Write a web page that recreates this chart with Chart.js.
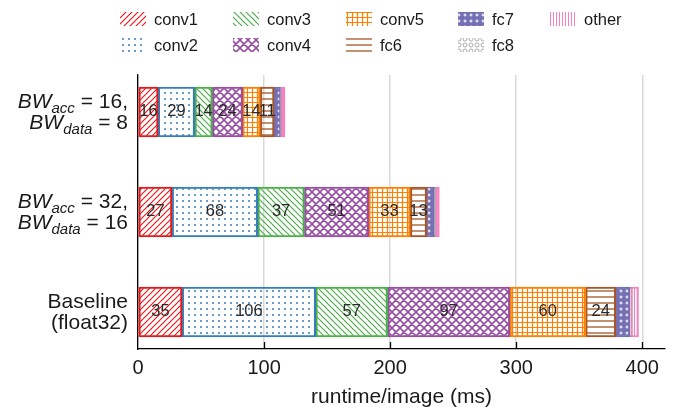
<!DOCTYPE html>
<html>
<head>
<meta charset="utf-8">
<script src="https://cdn.jsdelivr.net/npm/chart.js@4"></script>
<style>
  body { margin: 0; background: #fff; }
  canvas { display: block; }
</style>
</head>
<body>
<canvas id="runtimeChart" width="681" height="407"></canvas>
<script>
// カテゴリ（上から順に）。"_" の後ろは下付き文字
const categories = [
  ['BW_acc = 16,', 'BW_data = 8'],
  ['BW_acc = 32,', 'BW_data = 16'],
  ['Baseline', '(float32)']
];
const layerNames = ['conv1', 'conv2', 'conv3', 'conv4', 'conv5', 'fc6', 'fc7', 'fc8', 'other'];

// runtime per layer (ms)
const conv1 = [16, 27, 35];
const conv2 = [29, 68, 106];
const conv3 = [14, 37, 57];
const conv4 = [24, 51, 97];
const conv5 = [14, 33, 60];
const fc6 = [11, 13, 24];
const fc7 = [5, 6, 11];
const fc8 = [0.6, 1, 1];
const other = [3, 3, 6];

const xTicks = [0, 100, 200, 300, 400];
const labelledLayers = ['conv1', 'conv2', 'conv3', 'conv4', 'conv5', 'fc6'];

const FONT = "'Liberation Sans', Arial, sans-serif";
Chart.defaults.font.family = FONT;

const layerStyles = {
  conv1: { color: '#e41a1c', kind: 'slash' },
  conv2: { color: '#377eb8', kind: 'dots' },
  conv3: { color: '#4daf4a', kind: 'backslash' },
  conv4: { color: '#984ea3', kind: 'cross' },
  conv5: { color: '#ff7f00', kind: 'grid' },
  fc6:   { color: '#a65628', kind: 'hline' },
  fc7:   { color: '#7570b3', kind: 'stars' },
  fc8:   { color: '#999999', kind: 'rings' },
  other: { color: '#f781bf', kind: 'vline' }
};

// ハッチング用パターン
function makePattern(kind, color) {
  const s = { slash: 6, backslash: 6, dots: 6, cross: 8, grid: 5, hline: 6, stars: 6, rings: 6, vline: 3 }[kind];
  const c = document.createElement('canvas');
  c.width = s; c.height = s;
  const g = c.getContext('2d');
  g.strokeStyle = color;
  g.fillStyle = color;
  g.lineWidth = kind === 'cross' ? 1.6 : 1.2;
  g.beginPath();
  if (kind === 'slash' || kind === 'cross') {
    g.moveTo(-1, s + 1); g.lineTo(s + 1, -1);
    g.moveTo(-1, 1); g.lineTo(1, -1);
    g.moveTo(s - 1, s + 1); g.lineTo(s + 1, s - 1);
  }
  if (kind === 'backslash' || kind === 'cross') {
    g.moveTo(-1, -1); g.lineTo(s + 1, s + 1);
    g.moveTo(s - 1, -1); g.lineTo(s + 1, 1);
    g.moveTo(-1, s - 1); g.lineTo(1, s + 1);
  }
  if (kind === 'grid') {
    g.moveTo(2.5, 0); g.lineTo(2.5, s);
    g.moveTo(0, 2.5); g.lineTo(s, 2.5);
  }
  if (kind === 'hline') {
    g.lineWidth = 1.3;
    g.moveTo(0, 3); g.lineTo(s, 3);
  }
  if (kind === 'vline') {
    g.lineWidth = 1;
    g.moveTo(1.5, 0); g.lineTo(1.5, s);
  }
  g.stroke();
  if (kind === 'dots') {
    g.beginPath(); g.arc(3, 3, 1, 0, Math.PI * 2); g.fill();
  }
  if (kind === 'rings') {
    g.lineWidth = 0.8;
    g.beginPath(); g.arc(3, 3, 2, 0, Math.PI * 2); g.stroke();
  }
  if (kind === 'stars') {
    g.fillRect(0, 0, s, s);
    g.fillStyle = '#fff';
    g.fillRect(2.5, 1.5, 1, 3);
    g.fillRect(1.5, 2.5, 3, 1);
  }
  return document.createElement('canvas').getContext('2d').createPattern(c, 'repeat');
}

const seriesValues = [conv1, conv2, conv3, conv4, conv5, fc6, fc7, fc8, other];
const patterns = layerNames.map(n => makePattern(layerStyles[n].kind, layerStyles[n].color));

const datasets = layerNames.map((name, k) => ({
  label: name,
  data: seriesValues[k].map((v, i) => ({ x: v, y: i })),
  backgroundColor: patterns[k],
  borderColor: layerStyles[name].color,
  borderWidth: 1.5,
  borderSkipped: false,
  barThickness: 50
}));

// y軸ラベル（下付き文字つき）
function drawRichLine(ctx, text, xRight, y, size) {
  const m = text.match(/^(\w+)_(\w+)(.*)$/);
  const parts = m
    ? [{ t: m[1], font: `italic ${size}px ${FONT}`, dy: 0 },
       { t: m[2], font: `italic ${Math.round(size * 0.7)}px ${FONT}`, dy: 5 },
       { t: m[3], font: `${size}px ${FONT}`, dy: 0 }]
    : [{ t: text, font: `${size}px ${FONT}`, dy: 0 }];
  let w = 0;
  parts.forEach(p => { ctx.font = p.font; p.w = ctx.measureText(p.t).width; w += p.w; });
  let x = xRight - w;
  parts.forEach(p => { ctx.font = p.font; ctx.fillText(p.t, x, y + p.dy); x += p.w; });
}

const extrasPlugin = {
  id: 'extras',
  afterDatasetsDraw(chart) {
    const { ctx, chartArea } = chart;
    const xs = chart.scales.x;
    const ys = chart.scales.y;
    ctx.save();

    // 内向きの目盛り
    ctx.strokeStyle = '#000';
    ctx.lineWidth = 1.3;
    xTicks.slice(1).forEach(v => {
      const px = Math.round(xs.getPixelForValue(v)) + 0.5;
      ctx.beginPath();
      ctx.moveTo(px, chartArea.bottom);
      ctx.lineTo(px, chartArea.bottom - 7);
      ctx.stroke();
    });

    // 数値ラベル
    ctx.fillStyle = '#2a2a2a';
    ctx.font = `16.5px ${FONT}`;
    ctx.textAlign = 'center';
    ctx.textBaseline = 'middle';
    labelledLayers.forEach(name => {
      const k = layerNames.indexOf(name);
      chart.getDatasetMeta(k).data.forEach((bar, i) => {
        ctx.fillText(String(seriesValues[k][i]), (bar.x + bar.base) / 2, bar.y - 1);
      });
    });

    // カテゴリラベル
    ctx.fillStyle = '#1a1a1a';
    ctx.textAlign = 'left';
    ctx.textBaseline = 'alphabetic';
    categories.forEach((lines, i) => {
      const cy = ys.getPixelForValue(i);
      drawRichLine(ctx, lines[0], chartArea.left - 10, cy - 4, 21);
      drawRichLine(ctx, lines[1], chartArea.left - 10, cy + 16.5, 21);
    });

    // 凡例（列優先）
    const colX = [120, 233, 346, 458, 550];
    const rowY = [19, 45];
    ctx.font = `16.5px ${FONT}`;
    ctx.textBaseline = 'middle';
    layerNames.forEach((name, k) => {
      const x = colX[Math.floor(k / 2)];
      const y = rowY[k % 2];
      ctx.fillStyle = patterns[k];
      ctx.fillRect(x, y - 7, 26, 14);
      ctx.fillStyle = '#1a1a1a';
      ctx.fillText(name, x + 34, y + 1);
    });
    ctx.restore();
  }
};

new Chart(document.getElementById('runtimeChart'), {
  type: 'bar',
  data: { datasets },
  plugins: [extrasPlugin],
  options: {
    indexAxis: 'y',
    responsive: false,
    animation: false,
    layout: { padding: { top: 75, right: 16, left: 0, bottom: 0 } },
    plugins: {
      legend: { display: false },
      tooltip: { enabled: false }
    },
    scales: {
      x: {
        type: 'linear',
        stacked: true,
        min: 0,
        max: 418,
        afterBuildTicks: s => { s.ticks = xTicks.map(v => ({ value: v })); },
        afterFit: s => { s.height = 58; },
        grid: { color: '#d9d9d9', lineWidth: 1.5, drawTicks: false },
        border: { color: '#000', width: 1.3 },
        ticks: { padding: 7, color: '#1a1a1a', font: { size: 20 } },
        title: {
          display: true,
          text: 'runtime/image (ms)',
          color: '#1a1a1a',
          font: { size: 21, lineHeight: 0.9 },
          padding: 0
        }
      },
      y: {
        type: 'linear',
        stacked: true,
        reverse: true,
        offset: false,
        min: -0.37,
        max: 2.37,
        afterFit: s => { s.width = 138; },
        grid: { display: false },
        border: { color: '#000', width: 1.3 },
        ticks: { display: false }
      }
    }
  }
});
</script>
</body>
</html>
